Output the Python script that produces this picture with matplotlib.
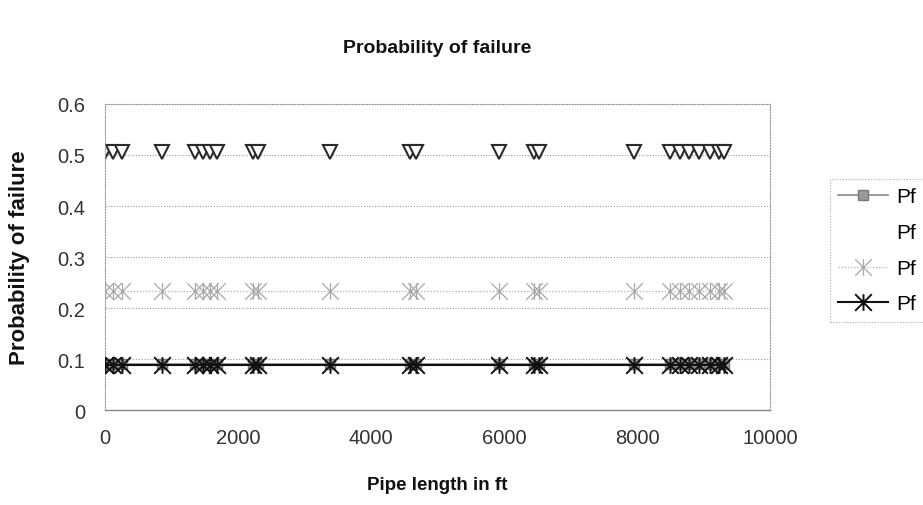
import numpy as np
import matplotlib.pyplot as plt
from matplotlib.lines import Line2D
from matplotlib.path import Path

plt.rcParams['font.family'] = ['Liberation Sans', 'DejaVu Sans']

# distance along the pipe (ft) where failure probability was evaluated
length_ft = [0, 120, 250, 850, 1350, 1470, 1580, 1680, 2220, 2300, 3380, 4590,
             4670, 5930, 6450, 6530, 7950, 8500, 8650, 8780, 8930, 9100, 9230, 9300]

pf_case1 = [0.09] * len(length_ft)
pf_case2 = [0.505] * len(length_ft)
pf_case3 = [0.234] * len(length_ft)
pf_case4 = [0.088] * len(length_ft)

yticks = [0, 0.1, 0.2, 0.3, 0.4, 0.5, 0.6]
ytick_labels = ['0', '0.1', '0.2', '0.3', '0.4', '0.5', '0.6']
xticks = [0, 2000, 4000, 6000, 8000, 10000]

# spreadsheet-style star: an X with a vertical bar through it
star = Path([(-1, -1), (1, 1), (-1, 1), (1, -1), (0, -1), (0, 1)],
            [Path.MOVETO, Path.LINETO, Path.MOVETO, Path.LINETO, Path.MOVETO, Path.LINETO])

fig = plt.figure(figsize=(9.23, 5.06), dpi=100)
ax = fig.add_axes([0.1138, 0.1877, 0.7205, 0.6048])

grid_col = '#9a9a9a'
for yv in yticks[1:]:
    ax.axhline(yv, color=grid_col, linestyle=(0, (1, 1.5)), linewidth=0.8, zorder=0)

l1, = ax.plot(length_ft, pf_case1, color='#8a8a8a', linewidth=1.2, marker='s',
              markersize=7, markerfacecolor='#9a9a9a', markeredgecolor='#7a7a7a', zorder=2)
l2, = ax.plot(length_ft, pf_case2, color='white', linewidth=2.5, marker='v',
              markersize=10, markerfacecolor='white', markeredgecolor='#2a2a2a',
              markeredgewidth=1.5, zorder=2)
l3, = ax.plot(length_ft, pf_case3, color='#b0b0b0', linewidth=0.9, linestyle=(0, (1, 1.5)),
              marker=star, markersize=12, markeredgecolor='#a8a8a8',
              markeredgewidth=0.9, zorder=3)
l4, = ax.plot(length_ft, pf_case4, color='#111111', linewidth=1.5,
              marker=star, markersize=12, markeredgecolor='#111111',
              markeredgewidth=1.4, zorder=4)

ax.set_xlim(0, 10000)
ax.set_ylim(0, 0.6)
ax.set_xticks(xticks)
ax.set_xticklabels([str(v) for v in xticks])
ax.set_yticks(yticks)
ax.set_yticklabels(ytick_labels)
ax.tick_params(length=0, labelsize=14.5, colors='#333333')
ax.tick_params(axis='y', pad=14)
ax.tick_params(axis='x', pad=13)

for side in ['left', 'top', 'right']:
    ax.spines[side].set_color(grid_col)
    ax.spines[side].set_linestyle((0, (1, 1.5)))
    ax.spines[side].set_linewidth(0.8)
ax.spines['bottom'].set_color('#888888')
ax.spines['bottom'].set_linewidth(1.0)

fig.text(0.474, 0.905, 'Probability of failure', ha='center', va='center',
         fontsize=14, fontweight='bold', color='#111111')
fig.text(0.474, 0.041, 'Pipe length in ft', ha='center', va='center',
         fontsize=13.5, fontweight='bold', color='#111111')
fig.text(0.021, 0.49, 'Probability of failure', ha='center', va='center',
         rotation=90, fontsize=16, fontweight='bold', color='#111111')

blank = Line2D([], [], color='white', linewidth=2.5)
leg = fig.legend([l1, blank, l3, l4], ['Pf', 'Pf', 'Pf', 'Pf'],
                 loc='upper left', bbox_to_anchor=(0.899, 0.644),
                 fontsize=15, frameon=True, fancybox=False,
                 handlelength=2.4, handletextpad=0.4, labelspacing=0.8,
                 borderpad=0.4, borderaxespad=0)
leg.get_frame().set_edgecolor(grid_col)
leg.get_frame().set_linestyle((0, (1, 1.5)))
leg.get_frame().set_linewidth(0.8)

fig.savefig('out.png', dpi=100)
